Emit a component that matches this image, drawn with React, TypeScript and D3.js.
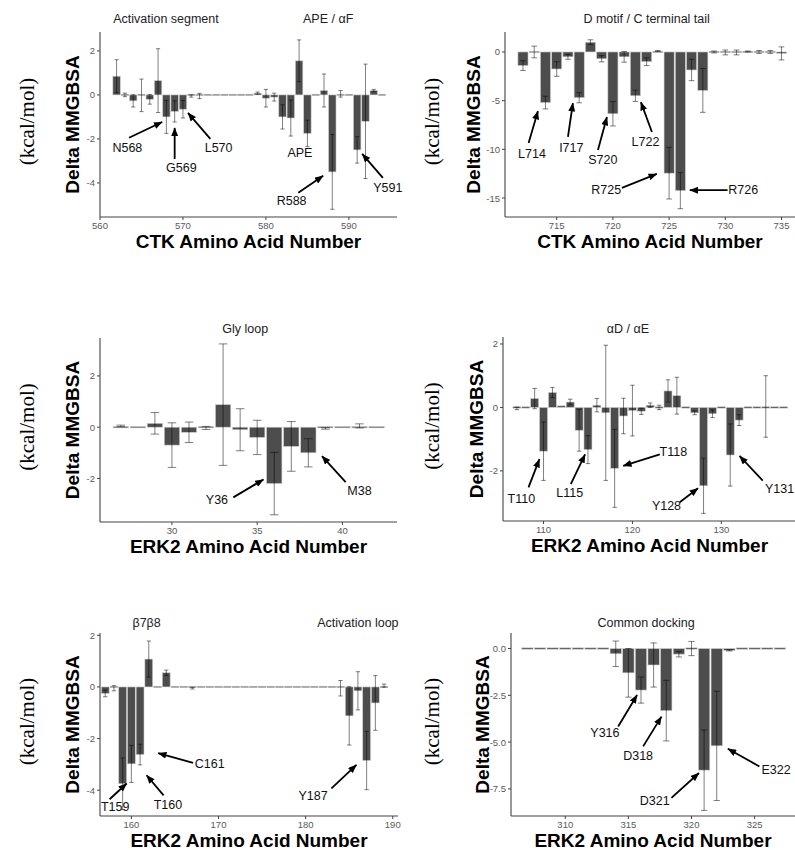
import React from "react";
import * as d3 from "d3";

// CTK activation segment / APE (residues 562-594)
const ctkSegRes = [562, 563, 564, 565, 566, 567, 568, 569, 570, 571, 572, 573, 574, 575, 576, 577, 578, 579, 580, 581, 582, 583, 584, 585, 586, 587, 588, 589, 590, 591, 592, 593, 594];
const ctkSegVal = [0.85, 0.0, -0.27, -0.02, -0.2, 0.65, -1.0, -0.75, -0.65, -0.05, -0.05, 0.02, 0.0, 0.0, 0.01, 0.03, 0.02, 0.08, -0.15, -0.1, -1.0, -1.05, 1.55, -1.75, -0.03, 0.2, -3.5, 0.05, 0.02, -2.5, -1.2, 0.2, 0.0];
const ctkSegSd = [0.75, 0.08, 0.28, 0.74, 0.22, 1.45, 0.75, 0.48, 0.4, 0.05, 0.12, 0.02, 0, 0, 0.01, 0.02, 0.02, 0.05, 0.4, 0.18, 0.55, 0.82, 0.95, 0.6, 0.02, 0.75, 1.7, 0.15, 0.02, 0.6, 2.6, 0.05, 0.01];

// CTK D motif / C terminal tail (residues 712-735)
const ctkTailRes = [712, 713, 714, 715, 716, 717, 718, 719, 720, 721, 722, 723, 724, 725, 726, 727, 728, 729, 730, 731, 732, 733, 734, 735];
const ctkTailVal = [-1.4, 0.0, -5.2, -1.75, -0.5, -4.7, 1.0, -0.7, -6.35, -0.5, -4.5, -1.0, 0.1, -12.45, -14.25, -1.85, -3.95, 0.0, -0.05, -0.05, 0.05, 0.0, 0.0, -0.15];
const ctkTailSd = [0.5, 0.6, 0.65, 0.75, 0.25, 0.52, 0.25, 0.32, 1.25, 0.55, 0.58, 0.4, 0.05, 2.65, 1.85, 1.1, 2.25, 0.1, 0.25, 0.25, 0.05, 0.15, 0.15, 0.67];

// ERK2 Gly loop (residues 27-42)
const glyRes = [27, 28, 29, 30, 31, 32, 33, 34, 35, 36, 37, 38, 39, 40, 41, 42];
const glyVal = [0.05, 0.05, 0.15, -0.7, -0.2, -0.03, 0.88, -0.1, -0.4, -2.2, -0.75, -1.0, -0.05, -0.02, 0.05, 0.0];
const glySd = [0.03, 0.02, 0.42, 0.87, 0.4, 0.06, 2.37, 0.82, 0.67, 1.22, 0.97, 0.55, 0.03, 0.02, 0.08, 0.01];

// ERK2 aD / aE (residues 107-137)
const helixRes = [107, 108, 109, 110, 111, 112, 113, 114, 115, 116, 117, 118, 119, 120, 121, 122, 123, 124, 125, 126, 127, 128, 129, 130, 131, 132, 133, 134, 135, 136, 137];
const helixVal = [-0.03, -0.03, 0.28, -1.38, 0.47, 0.05, 0.17, -0.72, -1.33, 0.07, -0.17, -1.92, -0.27, -0.1, -0.12, 0.07, 0.0, 0.52, 0.37, -0.03, -0.17, -2.47, -0.2, 0.0, -1.5, -0.4, 0.0, 0.0, 0.03, 0.0, 0.0];
const helixSd = [0.04, 0.02, 0.32, 0.92, 0.16, 0.02, 0.09, 0.66, 0.44, 0.21, 2.13, 1.23, 0.56, 0.8, 0.1, 0.07, 0.07, 0.35, 0.58, 0.02, 0.06, 0.87, 0.12, 0.01, 0.98, 0.17, 0.01, 0.01, 0.97, 0.01, 0.01];

// ERK2 b7b8 / activation loop (residues 157-189)
const loopRes = [157, 158, 159, 160, 161, 162, 163, 164, 165, 166, 167, 168, 169, 170, 171, 172, 173, 174, 175, 176, 177, 178, 179, 180, 181, 182, 183, 184, 185, 186, 187, 188, 189];
const loopVal = [-0.25, -0.05, -3.75, -2.98, -2.62, 1.08, -0.05, 0.55, 0.0, 0.0, -0.05, 0.0, 0.0, 0.0, 0.0, 0.0, 0.0, 0.0, -0.01, 0.0, 0.0, 0.0, 0.0, 0.0, 0.0, 0.0, 0.02, -0.05, -1.12, -0.15, -2.85, -0.62, 0.05];
const loopSd = [0.13, 0.1, 1.0, 0.72, 0.4, 0.7, 0.02, 0.1, 0, 0, 0.03, 0, 0, 0, 0, 0, 0, 0, 0, 0, 0, 0, 0, 0, 0, 0, 0.01, 0.3, 1.13, 0.74, 1.13, 1.06, 0.06];

// ERK2 common docking (residues 307-327)
const cdRes = [307, 308, 309, 310, 311, 312, 313, 314, 315, 316, 317, 318, 319, 320, 321, 322, 323, 324, 325, 326, 327];
const cdVal = [0.0, 0.0, 0.0, 0.0, -0.02, 0.03, -0.05, -0.28, -1.3, -2.22, -0.88, -3.32, -0.3, 0.0, -6.5, -5.2, -0.1, 0.0, 0.0, -0.05, 0.0];
const cdSd = [0.01, 0.01, 0.01, 0.01, 0.01, 0.01, 0.02, 0.68, 1.3, 0.7, 1.18, 1.62, 0.15, 0.38, 2.15, 2.92, 0.03, 0.01, 0.01, 0.01, 0.01];

const SANS = "'Liberation Sans', Arial, Helvetica, sans-serif";
const SERIF = "'Liberation Serif', 'Times New Roman', serif";

type Note = { text: string; tx: number; ty: number; from?: [number, number]; to?: [number, number] };
type Spec = {
  res: number[]; val: number[]; sd: number[];
  frame: [number, number, number, number];
  xDomain: [number, number]; yDomain: [number, number];
  xTicks: number[]; yTicks: number[]; yFmt: (v: number) => string;
  xLabel: string; xLabelGap: number; yLabelGap: number; unitsX: number;
  titleGap: number; titles: { text: string; x: number }[];
  notes: Note[];
};

const intFmt = (v: number) => (v < 0 ? "-" + Math.abs(v) : String(v));
const decFmt = (v: number) => (v < 0 ? "-" : "") + Math.abs(v).toFixed(1);

const panels: Spec[] = [
  {
    res: ctkSegRes, val: ctkSegVal, sd: ctkSegSd,
    frame: [100, 32, 397, 217], xDomain: [560, 595.8], yDomain: [-5.55, 2.86],
    xTicks: [560, 570, 580, 590], yTicks: [-4, -2, 0, 2], yFmt: intFmt,
    xLabel: "CTK Amino Acid Number", xLabelGap: 24, yLabelGap: 28, unitsX: 1,
    titleGap: 13, titles: [{ text: "Activation segment", x: 567.95 }, { text: "APE / αF", x: 587.5 }],
    notes: [
      { text: "N568", tx: 563.3, ty: -2.41, from: [563.5, -1.95], to: [567.5, -1.23] },
      { text: "G569", tx: 569.8, ty: -3.32, from: [569.0, -2.91], to: [569.0, -1.5] },
      { text: "L570", tx: 574.3, ty: -2.41, from: [573.3, -2.0], to: [570.6, -0.82] },
      { text: "APE", tx: 584.1, ty: -2.64 },
      { text: "R588", tx: 583.1, ty: -4.82, from: [583.9, -4.45], to: [586.9, -3.68] },
      { text: "Y591", tx: 594.7, ty: -4.23, from: [594.1, -3.77], to: [591.6, -2.68] },
    ],
  },
  {
    res: ctkTailRes, val: ctkTailVal, sd: ctkTailSd,
    frame: [505, 32, 795, 217], xDomain: [710.4, 736.2], yDomain: [-16.95, 2.05],
    xTicks: [715, 720, 725, 730, 735], yTicks: [-15, -10, -5, 0], yFmt: intFmt,
    xLabel: "CTK Amino Acid Number", xLabelGap: 24, yLabelGap: 32, unitsX: 1,
    titleGap: 13, titles: [{ text: "D motif / C terminal tail", x: 723.0 }],
    notes: [
      { text: "L714", tx: 712.8, ty: -10.5, from: [712.5, -9.34], to: [713.33, -6.07] },
      { text: "I717", tx: 716.3, ty: -9.9, from: [716.0, -8.73], to: [716.44, -5.25] },
      { text: "S720", tx: 719.1, ty: -11.1, from: [718.67, -10.06], to: [719.47, -6.68] },
      { text: "L722", tx: 722.9, ty: -9.2, from: [723.47, -8.22], to: [722.49, -5.15] },
      { text: "R725", tx: 719.4, ty: -14.2, from: [720.8, -13.95], to: [723.91, -12.52] },
      { text: "R726", tx: 731.6, ty: -14.2, from: [730.2, -14.2], to: [726.84, -14.2] },
    ],
  },
  {
    res: glyRes, val: glyVal, sd: glySd,
    frame: [100, 338, 397, 522], xDomain: [25.78, 43.2], yDomain: [-3.7, 3.48],
    xTicks: [30, 35, 40], yTicks: [-2, 0, 2], yFmt: intFmt,
    xLabel: "ERK2 Amino Acid Number", xLabelGap: 24, yLabelGap: 28, unitsX: 1,
    titleGap: 9, titles: [{ text: "Gly loop", x: 34.3 }],
    notes: [
      { text: "Y36", tx: 32.64, ty: -2.84, from: [33.6, -2.74], to: [35.37, -2.04] },
      { text: "M38", tx: 41.0, ty: -2.49, from: [40.19, -2.14], to: [38.8, -1.13] },
    ],
  },
  {
    res: helixRes, val: helixVal, sd: helixSd,
    frame: [503, 337, 796, 521], xDomain: [105.44, 138.4], yDomain: [-3.58, 2.22],
    xTicks: [110, 120, 130], yTicks: [-2, 0, 2], yFmt: intFmt,
    xLabel: "ERK2 Amino Acid Number", xLabelGap: 24, yLabelGap: 27, unitsX: 1,
    titleGap: 8, titles: [{ text: "αD / αE", x: 119.5 }],
    notes: [
      { text: "T110", tx: 107.5, ty: -2.89, from: [108.31, -2.52], to: [109.54, -1.63] },
      { text: "L115", tx: 112.95, ty: -2.70, from: [113.07, -2.42], to: [114.67, -1.48] },
      { text: "T118", tx: 124.6, ty: -1.41, from: [123.08, -1.48], to: [118.96, -1.84] },
      { text: "Y128", tx: 123.83, ty: -3.11, from: [125.32, -2.99], to: [127.38, -2.55] },
      { text: "Y131", tx: 136.55, ty: -2.57, from: [134.66, -2.31], to: [132.05, -1.53] },
    ],
  },
  {
    res: loopRes, val: loopVal, sd: loopSd,
    frame: [100, 633, 398, 816], xDomain: [156.4, 190.6], yDomain: [-5.0, 2.09],
    xTicks: [160, 170, 180, 190], yTicks: [-4, -2, 0, 2], yFmt: intFmt,
    xLabel: "ERK2 Amino Acid Number", xLabelGap: 24, yLabelGap: 28, unitsX: 1,
    titleGap: 10, titles: [{ text: "β7β8", x: 161.75 }, { text: "Activation loop", x: 186.0 }],
    notes: [
      { text: "T159", tx: 158.15, ty: -4.64, from: [157.5, -4.35], to: [159.46, -3.74] },
      { text: "T160", tx: 164.2, ty: -4.57, from: [163.7, -4.2], to: [161.75, -3.42] },
      { text: "C161", tx: 169.0, ty: -2.98, from: [167.08, -2.94], to: [163.07, -2.56] },
      { text: "Y187", tx: 180.85, ty: -4.21, from: [182.96, -3.93], to: [185.83, -3.02] },
    ],
  },
  {
    res: cdRes, val: cdVal, sd: cdSd,
    frame: [511, 633, 795, 816], xDomain: [305.7, 328.2], yDomain: [-8.95, 0.83],
    xTicks: [310, 315, 320, 325], yTicks: [-7.5, -5, -2.5, 0], yFmt: decFmt,
    xLabel: "ERK2 Amino Acid Number", xLabelGap: 24, yLabelGap: 29, unitsX: 1,
    titleGap: 10, titles: [{ text: "Common docking", x: 316.4 }],
    notes: [
      { text: "Y316", tx: 313.14, ty: -4.52, from: [314.19, -4.17], to: [315.69, -2.48] },
      { text: "D318", tx: 315.77, ty: -5.73, from: [316.17, -5.23], to: [317.62, -3.64] },
      { text: "D321", tx: 317.09, ty: -8.16, from: [318.41, -7.98], to: [320.59, -6.65] },
      { text: "E322", tx: 326.7, ty: -6.47, from: [325.38, -6.3], to: [322.88, -5.36] },
    ],
  },
];

function Panel({ p, idx }: { p: Spec; idx: number }) {
  const [left, top, right, bottom] = p.frame;
  const x = d3.scaleLinear().domain(p.xDomain).range([left, right]);
  const y = d3.scaleLinear().domain(p.yDomain).range([bottom, top]);
  const step = x(p.xDomain[0] + p.unitsX) - x(p.xDomain[0]);
  const bw = step * 0.9;
  const cap = step * 0.5;
  const y0 = y(0);
  const midY = (top + bottom) / 2;
  const unitColX = left < 300 ? 27 : 432;
  const markerId = `arrow-${idx}`;

  return (
    <g>
      <defs>
        <marker id={markerId} viewBox="0 0 10 8" refX="9.5" refY="4" markerWidth="9" markerHeight="7"
          markerUnits="userSpaceOnUse" orient="auto">
          <path d="M0,0 L10,4 L0,8 Z" fill="#000" />
        </marker>
      </defs>

      {p.titles.map((t) => (
        <text key={t.text} x={x(t.x)} y={top - p.titleGap} textAnchor="middle" dominantBaseline="central"
          fontFamily={SANS} fontSize={12.5} fill="#222">{t.text}</text>
      ))}

      {/* bars */}
      {p.res.map((r, i) => {
        const v = p.val[i];
        let y1 = Math.min(y(v), y0);
        let h = Math.abs(y(v) - y0);
        if (h < 1.4) { y1 = y0 - 0.7; h = 1.4; }
        return (
          <rect key={"b" + r} x={x(r) - bw / 2} y={y1} width={bw} height={h}
            fill="#4d4d4d" stroke="#d0d0d0" strokeWidth={0.6} />
        );
      })}

      {/* error bars */}
      {p.res.map((r, i) => {
        const s = p.sd[i];
        if (s < 0.03) return null;
        const v = p.val[i];
        const cx = x(r);
        const ya = y(v - s);
        const yb = y(v + s);
        return (
          <g key={"e" + r} stroke="#000" strokeOpacity={0.5} strokeWidth={1}>
            <line x1={cx} x2={cx} y1={ya} y2={yb} />
            <line x1={cx - cap / 2} x2={cx + cap / 2} y1={ya} y2={ya} />
            <line x1={cx - cap / 2} x2={cx + cap / 2} y1={yb} y2={yb} />
          </g>
        );
      })}

      {/* axes */}
      <line x1={left} x2={left} y1={top} y2={bottom} stroke="#444" strokeWidth={1.1} />
      <line x1={left} x2={right} y1={bottom} y2={bottom} stroke="#444" strokeWidth={1.1} />
      {p.yTicks.map((t) => (
        <g key={"yt" + t}>
          <line x1={left - 3} x2={left} y1={y(t)} y2={y(t)} stroke="#444" strokeWidth={1} />
          <text x={left - 5} y={y(t)} textAnchor="end" dominantBaseline="central"
            fontFamily={SANS} fontSize={9.5} fill="#5a5a5a">{p.yFmt(t)}</text>
        </g>
      ))}
      {p.xTicks.map((t) => (
        <g key={"xt" + t}>
          <line x1={x(t)} x2={x(t)} y1={bottom} y2={bottom + 3} stroke="#444" strokeWidth={1} />
          <text x={x(t)} y={bottom + 8.5} textAnchor="middle" dominantBaseline="central"
            fontFamily={SANS} fontSize={9.5} fill="#5a5a5a">{t}</text>
        </g>
      ))}

      {/* axis titles */}
      <text x={(left + right) / 2} y={bottom + p.xLabelGap} textAnchor="middle" dominantBaseline="central"
        fontFamily={SANS} fontWeight="bold" fontSize={19} fill="#000">{p.xLabel}</text>
      <text transform={`translate(${left - p.yLabelGap},${midY}) rotate(-90)`} textAnchor="middle"
        dominantBaseline="central" fontFamily={SANS} fontWeight="bold" fontSize={19} fill="#000">Delta MMGBSA</text>
      <text transform={`translate(${unitColX},${midY - 3}) rotate(-90)`} textAnchor="middle"
        dominantBaseline="central" fontFamily={SERIF} fontSize={21} fill="#000">(kcal/mol)</text>

      {/* annotations */}
      {p.notes.map((n) => (
        <g key={"n" + n.text}>
          {n.from && n.to && (
            <line x1={x(n.from[0])} y1={y(n.from[1])} x2={x(n.to[0])} y2={y(n.to[1])}
              stroke="#000" strokeWidth={1.8} markerEnd={`url(#${markerId})`} />
          )}
          <text x={x(n.tx)} y={y(n.ty)} textAnchor="middle" dominantBaseline="central"
            fontFamily={SANS} fontSize={12.5} fill="#111">{n.text}</text>
        </g>
      ))}
    </g>
  );
}

export default function App() {
  return (
    <svg width={795} height={850} viewBox="0 0 795 850"
      style={{ position: "absolute", left: 0, top: 0, background: "#fff" }}>
      <rect x={0} y={0} width={795} height={850} fill="#fff" />
      {panels.map((p, i) => (
        <Panel key={i} p={p} idx={i} />
      ))}
    </svg>
  );
}
